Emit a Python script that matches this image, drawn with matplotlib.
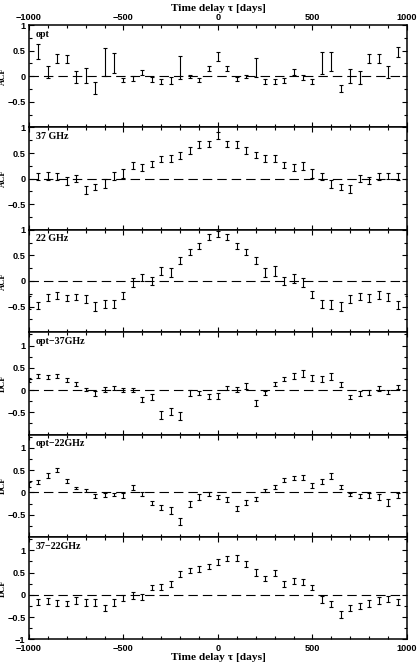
import numpy as np
import matplotlib
matplotlib.use("Agg")
import matplotlib.pyplot as plt
from matplotlib.ticker import MultipleLocator

nan = np.nan
lags = np.arange(-1000, 1001, 50)

names = ["opt", "37 GHz", "22 GHz", "opt\u221237GHz", "opt\u221222GHz", "37\u221222GHz"]
ylabels = ["ACF", "ACF", "ACF", "DCF", "DCF", "DCF"]

opt = [nan, 0.48, 0.08, 0.34, 0.33, -0.01, 0.01, -0.23, 0.28, 0.26,
       -0.08, -0.045, 0.08, -0.065, -0.1, -0.09, 0.17, 0.0, -0.065, 0.145,
       0.38,
       0.145, -0.055, 0.0, 0.165, -0.1, -0.1, -0.08, 0.08, -0.02, -0.1,
       0.26, 0.29, -0.235, 0.0, -0.02, 0.34, 0.34, 0.08, 0.47, nan]
opt_err = [nan, 0.15, 0.12, 0.09, 0.08, 0.12, 0.15, 0.12, 0.28, 0.2,
           0.04, 0.05, 0.05, 0.05, 0.05, 0.07, 0.22, 0.03, 0.04, 0.045,
           0.09,
           0.045, 0.045, 0.03, 0.185, 0.05, 0.05, 0.05, 0.06, 0.05, 0.05,
           0.21, 0.18, 0.065, 0.14, 0.13, 0.09, 0.09, 0.12, 0.1, nan]

r37 = [nan, 0.035, 0.055, 0.04, -0.045, 0.005, -0.215, -0.165, -0.1, 0.045,
       0.105, 0.25, 0.215, 0.28, 0.38, 0.39, 0.45, 0.55, 0.67, 0.68,
       0.85,
       0.68, 0.67, 0.55, 0.46, 0.4, 0.39, 0.27, 0.22, 0.24, 0.105,
       0.035, -0.1, -0.165, -0.21, 0.005, -0.04, 0.04, 0.05, 0.035, nan]
r37_err = [nan, 0.065, 0.075, 0.065, 0.075, 0.07, 0.08, 0.065, 0.085, 0.075,
           0.09, 0.07, 0.065, 0.06, 0.06, 0.07, 0.06, 0.06, 0.065, 0.06,
           0.07,
           0.06, 0.07, 0.06, 0.065, 0.07, 0.07, 0.06, 0.065, 0.075, 0.09,
           0.065, 0.075, 0.065, 0.08, 0.07, 0.075, 0.06, 0.065, 0.065, nan]

r22 = [-0.42, -0.48, -0.32, -0.28, -0.33, -0.31, -0.35, -0.5, -0.45, -0.45,
       -0.28, -0.03, 0.06, 0.0, 0.2, 0.165, 0.395, 0.57, 0.68, 0.86,
       0.915,
       0.86, 0.68, 0.57, 0.395, 0.165, 0.2, 0.0, 0.05, -0.03, -0.27,
       -0.45, -0.46, -0.5, -0.35, -0.3, -0.33, -0.27, -0.31, -0.47, -0.4]
r22_err = [0.12, 0.06, 0.07, 0.07, 0.065, 0.065, 0.075, 0.08, 0.075, 0.075,
           0.07, 0.08, 0.07, 0.08, 0.08, 0.085, 0.07, 0.06, 0.06, 0.055,
           0.065,
           0.055, 0.06, 0.06, 0.07, 0.085, 0.095, 0.08, 0.08, 0.08, 0.07,
           0.075, 0.08, 0.08, 0.075, 0.07, 0.075, 0.075, 0.075, 0.08, 0.11]

opt_37 = [0.22, 0.315, 0.3, 0.315, 0.22, 0.135, 0.015, -0.07, 0.01, 0.035,
          0.0, 0.0, -0.21, -0.15, -0.565, -0.48, -0.59, -0.07, -0.065, -0.145,
          -0.13,
          0.045, 0.01, 0.09, -0.3, -0.06, 0.125, 0.24, 0.315, 0.375, 0.27,
          0.24, 0.305, 0.12, -0.15, -0.085, -0.055, 0.04, -0.045, 0.07, nan]
opt_37_err = [0.05, 0.045, 0.045, 0.045, 0.04, 0.04, 0.03, 0.055, 0.055, 0.045,
              0.045, 0.04, 0.05, 0.07, 0.085, 0.075, 0.09, 0.06, 0.04, 0.055,
              0.065,
              0.05, 0.055, 0.07, 0.065, 0.045, 0.045, 0.045, 0.065, 0.085, 0.06,
              0.07, 0.075, 0.05, 0.045, 0.055, 0.05, 0.055, 0.05, 0.05, nan]

opt_22 = [0.18, 0.23, 0.38, 0.5, 0.26, 0.1, 0.04, -0.08, -0.06, -0.05,
          -0.07, 0.11, -0.04, -0.24, -0.34, -0.41, -0.66, -0.255, -0.11, -0.04,
          -0.105,
          -0.16, -0.36, -0.23, -0.145, 0.04, 0.12, 0.285, 0.325, 0.33, 0.16,
          0.245, 0.36, 0.12, -0.04, -0.09, -0.07, -0.1, -0.22, -0.06, nan]
opt_22_err = [0.05, 0.045, 0.05, 0.04, 0.04, 0.03, 0.035, 0.04, 0.05, 0.04,
              0.05, 0.055, 0.04, 0.045, 0.055, 0.085, 0.08, 0.07, 0.065, 0.04,
              0.045,
              0.05, 0.055, 0.055, 0.05, 0.035, 0.045, 0.045, 0.05, 0.055, 0.055,
              0.065, 0.065, 0.045, 0.035, 0.045, 0.05, 0.075, 0.075, 0.055, nan]

r37_22 = [nan, -0.17, -0.135, -0.18, -0.2, -0.13, -0.17, -0.18, -0.3, -0.17,
          -0.07, -0.01, -0.045, 0.17, 0.18, 0.25, 0.46, 0.545, 0.58, 0.635,
          0.74,
          0.81, 0.83, 0.685, 0.5, 0.365, 0.49, 0.245, 0.315, 0.29, 0.16,
          -0.11, -0.21, -0.45, -0.3, -0.25, -0.2, -0.13, -0.09, -0.16, nan]
r37_22_err = [nan, 0.07, 0.065, 0.065, 0.06, 0.075, 0.08, 0.075, 0.075, 0.08,
              0.07, 0.08, 0.065, 0.055, 0.065, 0.065, 0.065, 0.06, 0.06, 0.055,
              0.065,
              0.06, 0.065, 0.065, 0.07, 0.065, 0.07, 0.075, 0.065, 0.065, 0.06,
              0.08, 0.07, 0.075, 0.075, 0.065, 0.075, 0.075, 0.07, 0.065, nan]

series = [(opt, opt_err), (r37, r37_err), (r22, r22_err),
          (opt_37, opt_37_err), (opt_22, opt_22_err), (r37_22, r37_22_err)]

tickfont = dict(family="Liberation Sans", size=6.6, weight="bold")
labfont = dict(family="Liberation Serif", size=8.2, weight="bold")

fig = plt.figure(figsize=(4.2, 6.64), dpi=100)
axes = fig.subplots(6, 1, sharex=True)
fig.subplots_adjust(left=0.069, right=0.969, top=0.9623, bottom=0.0372, hspace=0)

for i, ax in enumerate(axes):
    val, err = series[i]
    ax.axhline(0, color="k", lw=0.8, ls=(0, (8.5, 4.5)), zorder=1)
    ax.errorbar(lags, val, yerr=err, fmt="none", ecolor="k", elinewidth=0.8,
                capsize=1.2, capthick=0.8, zorder=2)
    ax.set_xlim(-1000, 1000)
    if ylabels[i] == "ACF":
        ax.set_ylim(-1, 1)
    else:
        ax.set_ylim(-1, 1.3)
    ax.yaxis.set_minor_locator(MultipleLocator(0.25))
    ax.xaxis.set_major_locator(MultipleLocator(500))
    ax.xaxis.set_minor_locator(MultipleLocator(100))
    ax.tick_params(which="both", direction="in", top=True, right=True,
                   width=0.8, pad=2.5)
    ax.tick_params(axis="x", which="both", pad=3.2)
    ax.tick_params(which="major", length=3.6)
    ax.tick_params(which="minor", length=2)
    for s in ax.spines.values():
        s.set_linewidth(1.1)
    ax.set_yticks([-1, -0.5, 0, 0.5, 1])
    if i == 5:
        ax.set_yticklabels(["\u22121", "\u22120.5", "0", "0.5", "1"], **tickfont)
    else:
        ax.set_yticklabels(["", "\u22120.5", "0", "0.5", "1"], **tickfont)
    ax.set_ylabel(ylabels[i], family="Liberation Serif", size=6.2, weight="bold")
    ax.yaxis.set_label_coords(-0.058, 0.5)
    ax.text(0.018, 0.955, names[i], transform=ax.transAxes, ha="left", va="top",
            family="Liberation Serif", size=7.2, weight="bold")

xt = [-1000, -500, 0, 500, 1000]
xtl = ["\u22121000", "\u2212500", "0", "500", "1000"]
axes[0].tick_params(axis="x", labeltop=True, labelbottom=False, labelsize=6.6, pad=2.3)
axes[0].xaxis.set_label_position("top")
axes[0].set_xlabel("Time delay \u03c4 [days]", **labfont)
axes[0].xaxis.set_label_coords(0.5, 1.135)
axes[5].set_xticks(xt)
axes[5].set_xticklabels(xtl, **tickfont)
axes[5].set_xlabel("Time delay \u03c4 [days]", labelpad=0, **labfont)
for lab in axes[0].get_xticklabels(which="major"):
    lab.set_family("Liberation Sans")
    lab.set_weight("bold")

fig.savefig("out.png", dpi=100)
